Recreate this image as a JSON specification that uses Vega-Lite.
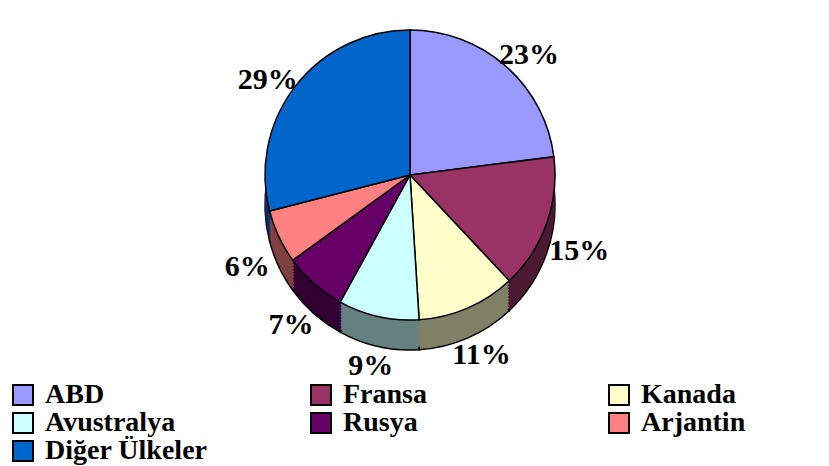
{
  "$schema": "https://vega.github.io/schema/vega-lite/v6.json",
  "width": 820,
  "height": 350,
  "padding": {"left": 0, "top": 0, "right": 0, "bottom": 0},
  "background": "white",
  "data": {"values": [
    {"ulke": "ABD", "pay": 0.23, "i": 1},
    {"ulke": "Fransa", "pay": 0.15, "i": 2},
    {"ulke": "Kanada", "pay": 0.11, "i": 3},
    {"ulke": "Avustralya", "pay": 0.09, "i": 4},
    {"ulke": "Rusya", "pay": 0.07, "i": 5},
    {"ulke": "Arjantin", "pay": 0.06, "i": 6},
    {"ulke": "Diğer Ülkeler", "pay": 0.29, "i": 7}
  ]},
  "encoding": {
    "theta": {"field": "pay", "type": "quantitative", "stack": true},
    "order": {"field": "i", "type": "quantitative"}
  },
  "layer": [
    {"mark": {"type": "arc", "outerRadius": 145, "yOffset": 30, "stroke": "black", "strokeWidth": 1.5},
     "encoding": {"color": {"field": "ulke", "type": "nominal", "legend": null, "scale": {"domain": ["ABD","Fransa","Kanada","Avustralya","Rusya","Arjantin","Diğer Ülkeler"], "range": ["#4D4D80","#4D1A33","#808066","#668080","#330033","#804040","#003366"]}}}},
    {"mark": {"type": "arc", "outerRadius": 145, "yOffset": 27},
     "encoding": {"color": {"field": "ulke", "type": "nominal", "legend": null, "scale": {"domain": ["ABD","Fransa","Kanada","Avustralya","Rusya","Arjantin","Diğer Ülkeler"], "range": ["#4D4D80","#4D1A33","#808066","#668080","#330033","#804040","#003366"]}}}},
    {"mark": {"type": "arc", "outerRadius": 145, "yOffset": 24},
     "encoding": {"color": {"field": "ulke", "type": "nominal", "legend": null, "scale": {"domain": ["ABD","Fransa","Kanada","Avustralya","Rusya","Arjantin","Diğer Ülkeler"], "range": ["#4D4D80","#4D1A33","#808066","#668080","#330033","#804040","#003366"]}}}},
    {"mark": {"type": "arc", "outerRadius": 145, "yOffset": 21},
     "encoding": {"color": {"field": "ulke", "type": "nominal", "legend": null, "scale": {"domain": ["ABD","Fransa","Kanada","Avustralya","Rusya","Arjantin","Diğer Ülkeler"], "range": ["#4D4D80","#4D1A33","#808066","#668080","#330033","#804040","#003366"]}}}},
    {"mark": {"type": "arc", "outerRadius": 145, "yOffset": 18},
     "encoding": {"color": {"field": "ulke", "type": "nominal", "legend": null, "scale": {"domain": ["ABD","Fransa","Kanada","Avustralya","Rusya","Arjantin","Diğer Ülkeler"], "range": ["#4D4D80","#4D1A33","#808066","#668080","#330033","#804040","#003366"]}}}},
    {"mark": {"type": "arc", "outerRadius": 145, "yOffset": 15},
     "encoding": {"color": {"field": "ulke", "type": "nominal", "legend": null, "scale": {"domain": ["ABD","Fransa","Kanada","Avustralya","Rusya","Arjantin","Diğer Ülkeler"], "range": ["#4D4D80","#4D1A33","#808066","#668080","#330033","#804040","#003366"]}}}},
    {"mark": {"type": "arc", "outerRadius": 145, "yOffset": 12},
     "encoding": {"color": {"field": "ulke", "type": "nominal", "legend": null, "scale": {"domain": ["ABD","Fransa","Kanada","Avustralya","Rusya","Arjantin","Diğer Ülkeler"], "range": ["#4D4D80","#4D1A33","#808066","#668080","#330033","#804040","#003366"]}}}},
    {"mark": {"type": "arc", "outerRadius": 145, "yOffset": 9},
     "encoding": {"color": {"field": "ulke", "type": "nominal", "legend": null, "scale": {"domain": ["ABD","Fransa","Kanada","Avustralya","Rusya","Arjantin","Diğer Ülkeler"], "range": ["#4D4D80","#4D1A33","#808066","#668080","#330033","#804040","#003366"]}}}},
    {"mark": {"type": "arc", "outerRadius": 145, "yOffset": 6},
     "encoding": {"color": {"field": "ulke", "type": "nominal", "legend": null, "scale": {"domain": ["ABD","Fransa","Kanada","Avustralya","Rusya","Arjantin","Diğer Ülkeler"], "range": ["#4D4D80","#4D1A33","#808066","#668080","#330033","#804040","#003366"]}}}},
    {"mark": {"type": "arc", "outerRadius": 145, "yOffset": 3},
     "encoding": {"color": {"field": "ulke", "type": "nominal", "legend": null, "scale": {"domain": ["ABD","Fransa","Kanada","Avustralya","Rusya","Arjantin","Diğer Ülkeler"], "range": ["#4D4D80","#4D1A33","#808066","#668080","#330033","#804040","#003366"]}}}},
    {"mark": {"type": "arc", "outerRadius": 145, "stroke": "black", "strokeWidth": 1.5},
     "encoding": {"color": {"field": "ulke", "type": "nominal",
       "scale": {"domain": ["ABD","Fransa","Kanada","Avustralya","Rusya","Arjantin","Diğer Ülkeler"], "range": ["#9999FF","#993366","#FFFFCC","#CCFFFF","#660066","#FF8080","#0066CC"]},
       "legend": {"title": null, "orient": "bottom", "direction": "horizontal", "columns": 3, "gridAlign": "all", "columnPadding": 99, "rowPadding": 0, "offset": 22, "padding": 9,
         "symbolType": "square", "symbolSize": 400, "symbolStrokeColor": "black", "symbolStrokeWidth": 2, "symbolOpacity": 1,
         "labelFont": "Liberation Serif", "labelFontSize": 28, "labelFontWeight": "bold", "labelColor": "black", "labelOffset": 8, "labelLimit": 400}}}},
    {"mark": {"type": "text", "radius": 180, "yOffset": 15, "font": "Liberation Serif", "fontSize": 30, "fontWeight": "bold", "color": "black", "align": "center", "baseline": "middle"},
     "encoding": {"text": {"field": "pay", "type": "quantitative", "format": ".0%"}}}
  ],
  "resolve": {"scale": {"color": "independent"}},
  "config": {"view": {"stroke": null}}
}
